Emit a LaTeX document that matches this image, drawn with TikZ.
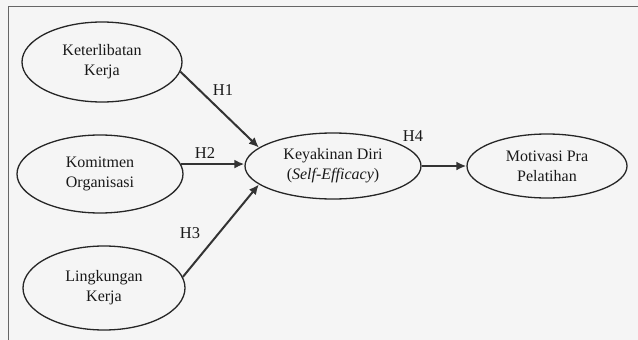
\documentclass[tikz,border=0pt]{standalone}
\usepackage{fontspec}
\setmainfont{Liberation Serif}
\usetikzlibrary{arrows.meta,shapes.geometric}
\begin{document}
\begin{tikzpicture}[x=1pt,y=-1pt,
  var/.style={draw=black!85,line width=1.3pt,ellipse,align=center,
    font=\fontsize{16}{20}\selectfont,text=black!90,inner sep=0pt},
  conn/.style={draw=black!80,line width=2pt,-{Latex[length=10pt,width=9pt]}},
  hlab/.style={font=\fontsize{16.5}{19}\selectfont,text=black!90}]
\useasboundingbox[fill=black!4] (0,0) rectangle (638,340);
\draw[black!60,line width=1pt] (8,340) -- (8,6) -- (638,6);
\node[var,minimum width=160pt,minimum height=80pt] (kk) at (102,62) {Keterlibatan\\Kerja};
\node[var,minimum width=166pt,minimum height=78pt] (ko) at (100,174) {Komitmen\\Organisasi};
\node[var,minimum width=162pt,minimum height=84pt] (lk) at (104,288) {Lingkungan\\Kerja};
\node[var,minimum width=176pt,minimum height=66pt] (kd) at (333,166) {Keyakinan Diri\\(\textit{Self-Efficacy})};
\node[var,minimum width=160pt,minimum height=64pt] (mp) at (547,166) {Motivasi Pra\\Pelatihan};
\draw[conn] (kk.-7) -- (kd.166);
\draw[conn] (ko.7) -- (ko.7 -| kd.west);
\draw[conn] (lk.8) -- (kd.194);
\draw[conn] (kd.east) -- (mp.west);
\node[hlab] (h1) at (223,90) {H1};
\node[hlab] (h2) at (205,153) {H2};
\node[hlab] (h3) at (190,233) {H3};
\node[hlab] (h4) at (413,136) {H4};
\end{tikzpicture}
\end{document}
